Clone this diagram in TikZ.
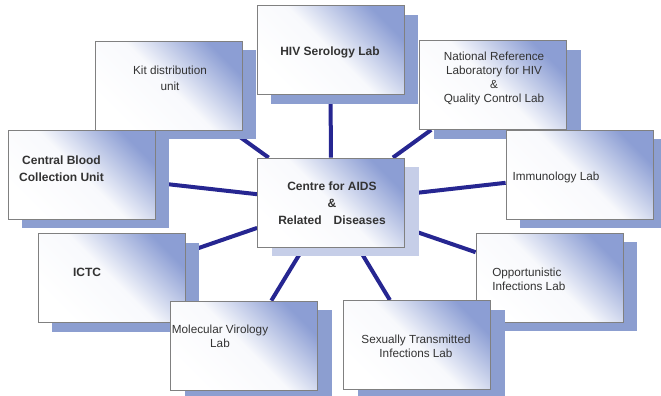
\documentclass[tikz,border=0pt]{standalone}
\usepackage{fontspec}
\setmainfont{Liberation Sans}
\usetikzlibrary{shadows}

\definecolor{boxblue}{RGB}{140,158,212}
\definecolor{shadowblue}{RGB}{140,158,208}
\definecolor{shadowpale}{RGB}{198,206,232}
\definecolor{linkblue}{RGB}{38,38,145}
\definecolor{framegray}{RGB}{128,128,128}

\pgfdeclarelayer{background}
\pgfsetlayers{background,main}

\tikzset{every picture/.style={line width=0.75pt}}
\tikzset{
  boxbase/.style={draw=framegray, line width=0.6pt, minimum width=110.25pt, minimum height=66.75pt, inner sep=0pt,
    top color=boxblue, bottom color=white, middle color=boxblue!6!white, shading angle=-45},
  labbox/.style={boxbase, drop shadow={shadow xshift=10.5pt, shadow yshift=-6.75pt, fill=shadowblue, opacity=1}},
  hubbox/.style={boxbase, drop shadow={shadow xshift=10.5pt, shadow yshift=-6.75pt, fill=shadowpale, opacity=1}},
  link/.style={draw=linkblue, line width=3pt},
  labtext/.style={font=\fontsize{8.8}{10.5}\selectfont, align=center, inner sep=0pt, text=black!80},
  boldtext/.style={font=\fontsize{9}{12.75}\selectfont\bfseries, align=center, inner sep=0pt, text=black!80}
}

\begin{document}
\begin{tikzpicture}[x=0.75pt,y=0.75pt,yscale=-1,xscale=1]
	\useasboundingbox (0,0) rectangle (661,396);
	\clip (0,0) rectangle (661,396);

	%Boxes
	\node[labbox] (hiv) at (330.5,50) {};
	\node[labbox] (kit) at (168.5,85.5) {};
	\node[labbox] (nrl) at (493,85) {};
	\node[labbox] (cbu) at (81.5,174.5) {};
	\node[labbox] (imm) at (579.5,174.5) {};
	\node[labbox] (ictc) at (111.5,278) {};
	\node[labbox] (opp) at (549.5,277.5) {};
	\node[labbox] (mvl) at (244,345.5) {};
	\node[labbox] (sti) at (417,345) {};
	\node[hubbox] (card) at (331,202.5) {};

	\begin{pgfonlayer}{background}
	%Straight Lines
	\draw[link] (card) -- (hiv);
	%Straight Lines
	\draw[link] (card) -- (kit);
	%Straight Lines
	\draw[link] (card) -- (nrl);
	%Straight Lines
	\draw[link] (card) -- (cbu);
	%Straight Lines
	\draw[link] (card) -- (imm);
	%Straight Lines
	\draw[link] (card) -- (ictc);
	%Straight Lines
	\draw[link] (card) -- (opp);
	%Straight Lines
	\draw[link] (card) -- (mvl);
	%Straight Lines
	\draw[link] (card) -- (sti);
	\end{pgfonlayer}

	% Text Node
	\node[boldtext] (hivtext) at (330,52) {HIV Serology Lab};
	% Text Node
	\node[labtext, font=\fontsize{8.8}{12}\selectfont] (kittext) at (170,78) {Kit distribution\\unit};
	% Text Node
	\node[labtext] (nrltext) at (494,78.5) {National Reference\\Laboratory for HIV\\\&\\Quality Control Lab};
	% Text Node
	\node[boldtext] (cbutext) at (61.5,168.5) {Central Blood\\Collection Unit};
	% Text Node
	\node[boldtext] (cardtext) at (332,203.5) {Centre for AIDS\\\&\\Related\hspace{9pt}Diseases};
	% Text Node
	\node[labtext] (immtext) at (556,177) {Immunology Lab};
	% Text Node
	\node[boldtext] (ictctext) at (87,272) {ICTC};
	% Text Node
	\node[labtext, anchor=west, align=left] (opptext) at (492,279) {Opportunistic\\Infections Lab};
	% Text Node
	\node[labtext] (mvltext) at (220,336) {Molecular Virology\\Lab};
	% Text Node
	\node[labtext] (stitext) at (416,346) {Sexually Transmitted\\Infections Lab};

\end{tikzpicture}
\end{document}
